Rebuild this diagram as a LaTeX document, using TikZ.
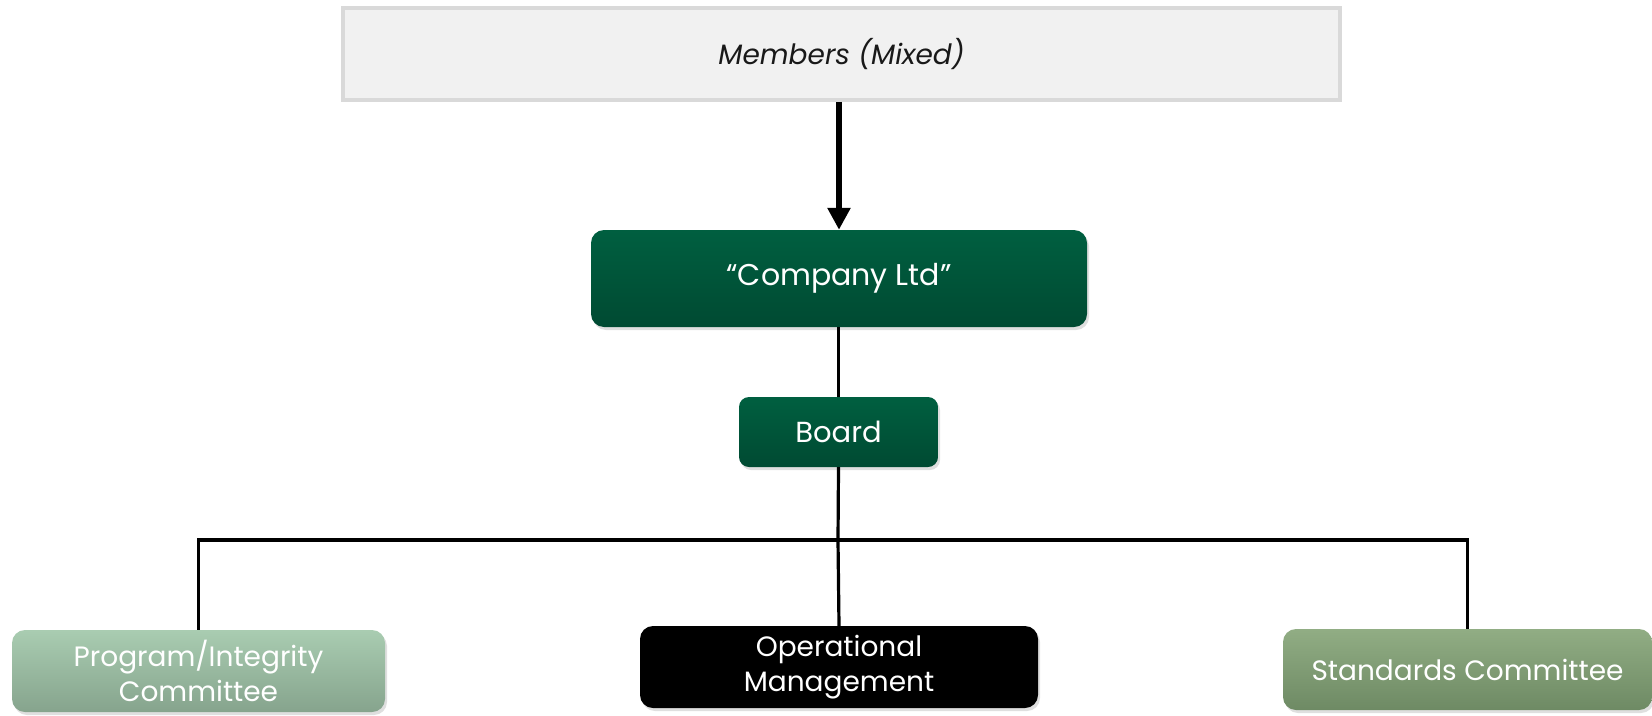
\documentclass[tikz,border=0pt]{standalone}
\usepackage{fontspec}
\setmainfont{Poppins}
\usepackage{tikz}
\usetikzlibrary{arrows.meta, shadows}
\definecolor{boxgray}{HTML}{F1F1F1}
\definecolor{edgegray}{HTML}{D9D9D9}
\definecolor{dkgreenA}{HTML}{005F40}
\definecolor{dkgreenB}{HTML}{004A32}
\definecolor{ltgreenA}{HTML}{A9CCB1}
\definecolor{ltgreenB}{HTML}{86A48D}
\definecolor{sagegreenA}{HTML}{91AD84}
\definecolor{sagegreenB}{HTML}{6E8A64}
\tikzstyle{memberbox} = [rectangle, minimum width=997pt, minimum height=92pt, text centered, draw=edgegray, line width=3.5pt, fill=boxgray, font=\fontsize{28}{32}\selectfont\itshape, text=black!90]
\tikzstyle{orgbox} = [rectangle, rounded corners=13pt, text centered, text=white, align=center, drop shadow={shadow xshift=2pt, shadow yshift=-3pt, opacity=0.25}]
\tikzstyle{dkgreen} = [orgbox, top color=dkgreenA, bottom color=dkgreenB]
\tikzstyle{ltgreen} = [orgbox, top color=ltgreenA, bottom color=ltgreenB]
\tikzstyle{sagegreen} = [orgbox, top color=sagegreenA, bottom color=sagegreenB]
\tikzstyle{blackbox} = [orgbox, fill=black]
\tikzstyle{arrow} = [line width=6pt, -{Triangle[length=22pt, width=22pt]}]
\tikzstyle{link} = [line width=3.2pt]

\begin{document}
\begin{tikzpicture}[x=1pt, y=-1pt]
		\useasboundingbox (0,0) rectangle (1652,715);
		\node (members) [memberbox] at (841.5,54) {Members (Mixed)};
		\node (company) [dkgreen, minimum width=496pt, minimum height=97pt, font=\fontsize{30}{34}\selectfont] at (839,278.5) {“Company Ltd”};
		\node (board) [dkgreen, minimum width=199pt, minimum height=70pt, rounded corners=10pt, font=\fontsize{29}{32}\selectfont] at (838.5,432) {Board};
		
		\node (prog) [ltgreen, minimum width=373pt, minimum height=82pt, font=\fontsize{28}{35}\selectfont] at (198.5,671) {Program/Integrity\\Committee};
		\node (oper) [blackbox, minimum width=398pt, minimum height=82pt, font=\fontsize{28}{35}\selectfont] at (839,667) {Operational\\Management};
		\node (stand) [sagegreen, minimum width=369pt, minimum height=81pt, font=\fontsize{28}{32}\selectfont] at (1467.5,669.5) {Standards Committee};
		\coordinate (split) at (838,540);
		
		\draw [arrow] (members.south -| company.north) -- (company.north);
		\draw [link] (company.south -| board.north) -- (board.north);
		\draw [link] (board.south) -- (split);
		\draw [link] (prog.north) |- (split) -| (stand.north);
		\draw [link] (split) -- (oper.north);
		\end{tikzpicture}
\end{document}
